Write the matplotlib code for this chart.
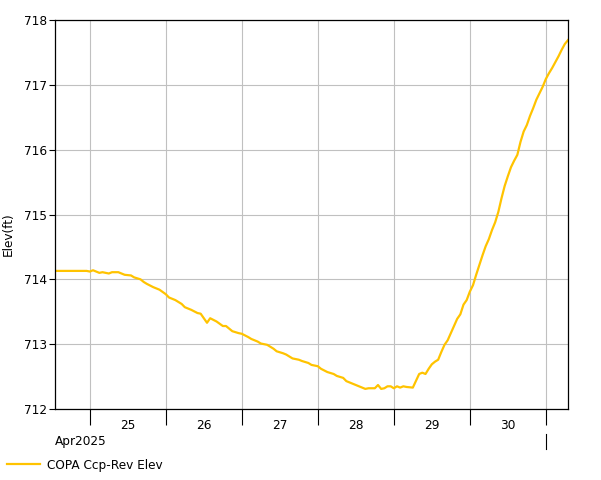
import matplotlib
matplotlib.use("Agg")
import matplotlib.pyplot as plt
import matplotlib.dates as mdates
from matplotlib.lines import Line2D
import pandas as pd

plt.rcParams['font.family'] = ['DejaVu Sans']

# ---- data: hours since 2025-04-24 00:00 and elevation (ft)
base_time = "2025-04-24 00:00"
hours = [13, 23, 24, 25, 27, 28, 30, 31, 33, 34, 35, 37, 38, 40, 41, 42, 44, 46, 48, 49,
         51, 53, 54, 56, 58, 59, 61, 62, 64, 66, 67, 69, 71, 72, 74, 75, 77, 78, 80, 82,
         83, 85, 86, 88, 90, 91, 93, 94, 96, 97, 99, 101, 102, 104, 105, 107, 109, 111, 112, 114,
         115, 116, 117, 118, 119, 120, 121, 122, 123, 124, 126, 128, 129, 130, 131, 132, 133, 134, 135, 136,
         137, 138, 139, 140, 141, 142, 143, 144, 145, 146, 147, 148, 149, 150, 151, 152, 153, 154, 155, 156,
         157, 158, 159, 160, 161, 162, 163, 164, 165, 166, 167, 168, 169, 170, 171, 172, 173, 174, 175]
elev = [714.13, 714.13, 714.12, 714.14, 714.10, 714.11, 714.09, 714.11, 714.11, 714.09,
        714.07, 714.06, 714.03, 714.00, 713.96, 713.93, 713.88, 713.84, 713.77, 713.72,
        713.68, 713.62, 713.57, 713.53, 713.48, 713.47, 713.33, 713.40, 713.35, 713.28,
        713.28, 713.20, 713.17, 713.16, 713.11, 713.08, 713.04, 713.01, 712.99, 712.93,
        712.89, 712.86, 712.84, 712.78, 712.76, 712.74, 712.71, 712.68, 712.66, 712.62,
        712.57, 712.54, 712.51, 712.48, 712.43, 712.39, 712.35, 712.31, 712.32, 712.32,
        712.37, 712.31, 712.32, 712.35, 712.35, 712.32, 712.35, 712.33, 712.35, 712.34,
        712.33, 712.54, 712.56, 712.54, 712.62, 712.69, 712.73, 712.76, 712.88, 712.99,
        713.06, 713.17, 713.28, 713.39, 713.46, 713.61, 713.68, 713.81, 713.91, 714.07,
        714.22, 714.37, 714.51, 714.62, 714.76, 714.88, 715.04, 715.25, 715.44, 715.59,
        715.73, 715.83, 715.92, 716.12, 716.28, 716.38, 716.52, 716.64, 716.77, 716.87,
        716.97, 717.09, 717.18, 717.26, 717.35, 717.44, 717.54, 717.63, 717.69]
series_name = "COPA Ccp-Rev Elev"
y_label = "Elev(ft)"
month_label = "Apr2025"
month_end = "2025-05-01 00:00"
y_ticks = [712, 713, 714, 715, 716, 717, 718]

times = pd.Timestamp(base_time) + pd.to_timedelta(hours, unit="h")

FS = 8.7
W, H = 601, 480
fig = plt.figure(figsize=(W / 100, H / 100), dpi=100)
ax = fig.add_axes([55 / W, 1 - 409 / H, 513 / W, 389 / H])

line_color = "#FFC300"
ax.plot(times, elev, color=line_color, linewidth=1.6, solid_joinstyle="round")

ax.set_xlim(times[0], times[-1])
ax.set_ylim(y_ticks[0], y_ticks[-1])
ax.set_yticks(y_ticks)
ax.set_yticklabels([str(v) for v in y_ticks])

ax.xaxis.set_major_locator(mdates.DayLocator())
ax.xaxis.set_major_formatter(plt.NullFormatter())
ax.xaxis.set_minor_locator(mdates.HourLocator(byhour=[12]))
ax.xaxis.set_minor_formatter(mdates.DateFormatter("%d"))

ax.tick_params(axis="x", which="major", direction="out", length=11.5, width=0.8, color="black")
ax.tick_params(axis="x", which="minor", length=0, pad=7.5, labelsize=FS, labelcolor="black")
ax.tick_params(axis="y", which="major", direction="out", length=4.3, width=0.8, pad=1.5,
               labelsize=FS, color="black")

ax.grid(True, which="major", color="#c0c0c0", linewidth=0.8)
ax.set_axisbelow(True)
for s in ax.spines.values():
    s.set_color("black")
    s.set_linewidth(0.9)

# y label
fig.text(8 / W, 1 - 234 / H, y_label, rotation=90, ha="center", va="center", fontsize=FS)

# month label and month boundary marker
fig.text(55 / W, 1 - 441 / H, month_label, ha="left", va="center", fontsize=FS)
trans = ax.get_xaxis_transform()
xm = mdates.date2num(pd.Timestamp(month_end))
ax.add_line(Line2D([xm, xm], [-(434 - 409) / 389, -(449 - 409) / 389], transform=trans,
                   color="black", linewidth=0.8, clip_on=False))

# legend
handle = Line2D([], [], color=line_color, linewidth=1.6)
fig.legend([handle], [series_name], loc="center left", bbox_to_anchor=(7 / W, 1 - 465 / H),
           frameon=False, fontsize=FS, handlelength=2.75, handletextpad=0.6,
           borderpad=0, borderaxespad=0)

fig.savefig("out.png", dpi=100)
